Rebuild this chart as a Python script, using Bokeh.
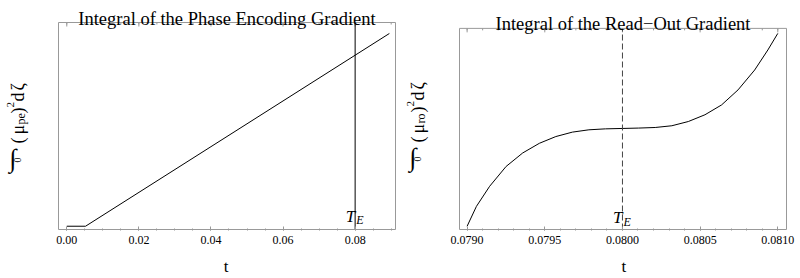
import numpy as np
from bokeh.plotting import figure
from bokeh.layouts import row
from bokeh.models import Label, FixedTicker, Range1d, BoxAnnotation
from bokeh.embed import file_html
from bokeh.resources import INLINE

# ---------------- data ----------------
pe_title = "Integral of the Phase Encoding Gradient"
ro_title = "Integral of the Read\u2212Out Gradient"
x_label = "t"
te_t = 0.08

pe_t = [0.0, 0.0052, 0.0895]
pe_v = [0.0, 0.0, 1.0]
pe_ticks = [0.00, 0.02, 0.04, 0.06, 0.08]
pe_tick_labels = ["0.00", "0.02", "0.04", "0.06", "0.08"]
pe_box_x = (-0.0023, 0.0912)
pe_box_y = (-0.017, 1.057)

ro_t = [0.079000, 0.079060, 0.079145, 0.079251, 0.079358, 0.079465, 0.079571,
        0.079678, 0.079784, 0.079891, 0.079998, 0.080104, 0.080211, 0.080318,
        0.080424, 0.080531, 0.080638, 0.080744, 0.080851, 0.080936, 0.081000]
ro_v = [0.000, 0.103, 0.207, 0.310, 0.380, 0.430, 0.465,
        0.488, 0.500, 0.505, 0.507, 0.509, 0.512, 0.521,
        0.543, 0.578, 0.629, 0.707, 0.810, 0.914, 1.000]
ro_ticks = [0.0790, 0.0795, 0.0800, 0.0805, 0.0810]
ro_tick_labels = ["0.0790", "0.0795", "0.0800", "0.0805", "0.0810"]
ro_box_x = (0.078951, 0.081056)
ro_box_y = (-0.017, 1.026)

SERIF = "Liberation Serif"
FRAME = "#999999"
NBSP = "\u00a0"


def lab(p, **kw):
    p.add_layout(Label(x_units="screen", y_units="screen", text_font=SERIF,
                       text_color="black", **kw))


def make_panel(box_x, box_y, box_left, box_top, box_w, box_h, right_border,
               bottom_border, ticks, minor, tick_labels, title, title_base, t_shift):
    # The frame reaches the canvas' left and top edges so that the rotated y label
    # and the title fit in it; the visible plot box is drawn as a BoxAnnotation.
    ppx = (box_x[1] - box_x[0]) / box_w
    ppy = (box_y[1] - box_y[0]) / box_h
    xr = Range1d(box_x[0] - box_left * ppx, box_x[1] + 1 * ppx)
    yr = Range1d(box_y[0] - 1 * ppy, box_y[1] + box_top * ppy)
    p = figure(x_range=xr, y_range=yr, width=400, height=278,
               min_border_left=0, min_border_right=right_border,
               min_border_top=0, min_border_bottom=bottom_border,
               y_axis_location=None, toolbar_location=None,
               output_backend="svg")
    p.grid.visible = False
    p.outline_line_color = None
    p.background_fill_color = "white"
    p.border_fill_color = "white"
    fb = 278 - bottom_border  # frame bottom in canvas px

    p.add_layout(BoxAnnotation(left=box_x[0], right=box_x[1], bottom=box_y[0],
                               top=box_y[1], fill_color=None, fill_alpha=0,
                               line_color=FRAME, line_alpha=1.0, line_width=1,
                               line_dash="solid"))

    # bottom axis (library axis)
    ax = p.xaxis[0]
    ax.ticker = FixedTicker(ticks=ticks, minor_ticks=minor)
    ax.major_label_overrides = {float(t): l for t, l in zip(ticks, tick_labels)}
    ax.axis_line_color = None
    ax.major_tick_line_color = FRAME
    ax.minor_tick_line_color = FRAME
    ax.major_tick_in = 4
    ax.major_tick_out = 0
    ax.minor_tick_in = 2
    ax.minor_tick_out = 0
    ax.major_label_text_font = SERIF
    ax.major_label_text_font_size = "12px"
    ax.major_label_text_color = "black"
    ax.major_label_standoff = 5
    ax.axis_label = NBSP * t_shift + x_label
    ax.axis_label_text_font = SERIF
    ax.axis_label_text_font_size = "17px"
    ax.axis_label_text_font_style = "normal"
    ax.axis_label_text_color = "black"
    ax.axis_label_standoff = 10

    # mirrored ticks on the top edge of the box
    top = box_y[1]
    p.segment(x0=ticks, y0=[top] * len(ticks), x1=ticks,
              y1=[top - 4 * ppy] * len(ticks), line_color=FRAME, line_width=1)
    p.segment(x0=minor, y0=[top] * len(minor), x1=minor,
              y1=[top - 2 * ppy] * len(minor), line_color=FRAME, line_width=1)

    # title
    lab(p, x=box_left + box_w / 2, y=fb - title_base, text=title,
        text_font_size="18.5px", text_align="center", text_baseline="alphabetic")
    return p, fb


def add_ylabel(p, sub, fb):
    # composite y label: ∫0 (μ_sub)^2 dζ ; x = px from canvas left, fb - y = px from top
    b = 17
    up = np.pi / 2
    lab(p, x=12.5, y=fb - 158, text="\u222b", text_font_size="26px",
        text_align="center", text_baseline="middle")
    lab(p, x=b, y=fb - 162, text="0", angle=up, text_font_size="10px",
        text_align="left", text_baseline="alphabetic")
    pieces = [("(", 18, 0, 143), ("\u03bc", 18, 0, 134), (sub, 12, 3, 124),
              (")", 18, 0, 113), ("2", 11, -7, 107), ("d", 18, 0, 101),
              ("\u03b6", 18, 0, 90)]
    for txt, fs, off, cy in pieces:
        lab(p, x=b + off, y=fb - cy, text=txt, angle=up,
            text_font_size=f"{fs}px", text_align="left", text_baseline="alphabetic")


def add_te(p, fb, t_base, e_base):
    p.add_layout(Label(x=te_t, y=fb - t_base, x_units="data", y_units="screen",
                       x_offset=0, text="T", text_font=SERIF, text_font_size="17px",
                       text_font_style="italic", text_align="right",
                       text_baseline="alphabetic", text_color="black"))
    p.add_layout(Label(x=te_t, y=fb - e_base, x_units="data", y_units="screen",
                       x_offset=1, text="E", text_font=SERIF, text_font_size="12px",
                       text_font_style="italic", text_align="left",
                       text_baseline="alphabetic", text_color="black"))


# ---------------- left panel ----------------
pe_minor = list(np.arange(0, 0.0901, 0.005))
p1, fb1 = make_panel(pe_box_x, pe_box_y, 58, 22, 337, 207, 4, 48,
                     pe_ticks, pe_minor, pe_tick_labels, pe_title, 18.5, 13)
p1.line(pe_t, pe_v, line_color="black", line_width=1)
p1.line([te_t, te_t], list(pe_box_y), line_color="black", line_width=1)
add_te(p1, fb1, 216, 219)
add_ylabel(p1, "pe", fb1)

# ---------------- right panel ----------------
ro_minor = list(np.arange(0.0790, 0.08101, 0.0001))
p2, fb2 = make_panel(ro_box_x, ro_box_y, 59, 28, 327, 202, 13, 47,
                     ro_ticks, ro_minor, ro_tick_labels, ro_title, 24, 14)
p2.line(ro_t, ro_v, line_color="black", line_width=1)
p2.line([te_t, te_t], list(ro_box_y), line_color="#444444", line_width=1,
        line_dash="6 3")
add_te(p2, fb2, 218, 222)
add_ylabel(p2, "ro", fb2)

layout = row(p1, p2, spacing=0)
open("out.html", "w").write(file_html(layout, INLINE))
